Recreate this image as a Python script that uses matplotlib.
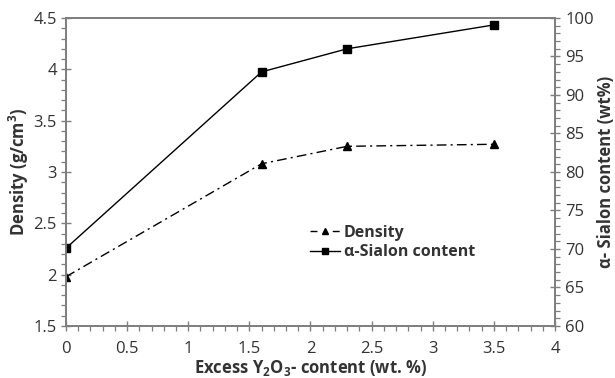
import numpy as np
import matplotlib
matplotlib.use("Agg")
import matplotlib.pyplot as plt
from matplotlib.ticker import MultipleLocator
from matplotlib.lines import Line2D

plt.rcParams['font.family'] = ['Open Sans', 'DejaVu Sans']
plt.rcParams['mathtext.default'] = 'regular'

# --- data ---
y2o3 = [0, 1.6, 2.3, 3.5]
density = [1.98, 3.08, 3.25, 3.27]
sialon = [70.1, 93.0, 96.0, 99.1]

grey = '#7f7f7f'
txt = '#333333'

fig = plt.figure(figsize=(6.15, 3.78), dpi=100)
ax = fig.add_axes([0.1073, 0.1376, 0.7951, 0.8148])
ax2 = ax.twinx()

dashdot = (0, (7, 3, 1.5, 3))
ax.plot(y2o3, density, color='black', lw=1.0, linestyle=dashdot,
        marker='^', markersize=5.5)
ax2.plot(y2o3, sialon, color='black', lw=1.0, marker='s', markersize=5.5)

ax.set_xlim(0, 4)
ax.set_ylim(1.5, 4.5)
ax2.set_ylim(60, 100)

ax.xaxis.set_major_locator(MultipleLocator(0.5))
ax.xaxis.set_minor_locator(MultipleLocator(0.1))
ax.yaxis.set_major_locator(MultipleLocator(0.5))
ax.yaxis.set_minor_locator(MultipleLocator(0.1))
ax2.yaxis.set_major_locator(MultipleLocator(5))
ax2.yaxis.set_minor_locator(MultipleLocator(1))
ax.set_xticklabels([f"{v:g}" for v in ax.get_xticks()])
ax.set_yticklabels([f"{v:g}" for v in ax.get_yticks()])

for a in (ax, ax2):
    for s in a.spines.values():
        s.set_color(grey)
        s.set_linewidth(1.3)
    a.tick_params(which='major', direction='inout', length=7, width=1.0,
                  color=grey, labelcolor=txt, labelsize=12)
    a.tick_params(which='minor', direction='out', length=3.5, width=0.9, color=grey)
ax.tick_params(axis='x', pad=7)
ax.tick_params(axis='y', pad=3)
ax2.tick_params(axis='y', pad=4)

ax.set_xlabel('Excess Y$_2$O$_3$- content (wt. %)', fontsize=12,
              fontweight='bold', color=txt, labelpad=1)
ax.set_ylabel('Density (g/cm$^3$)', fontsize=12, fontweight='bold',
              color=txt, labelpad=2)
ax2.set_ylabel('α- Sialon content (wt%)', fontsize=12, fontweight='bold',
               color=txt, labelpad=2)

handles = [
    Line2D([], [], color='black', lw=1.0, linestyle=(0, (5, 11)), marker='^', markersize=5),
    Line2D([], [], color='black', lw=1.0, marker='s', markersize=5),
]
fig.legend(handles, ['Density', 'α-Sialon content'], loc='upper left',
           bbox_to_anchor=(0.504, 0.405), frameon=False,
           prop={'size': 11.5, 'weight': 'bold'}, labelcolor=txt,
           handlelength=1.9, handletextpad=0.2, labelspacing=0.2,
           borderaxespad=0, borderpad=0)

fig.savefig('out.png', dpi=100)
